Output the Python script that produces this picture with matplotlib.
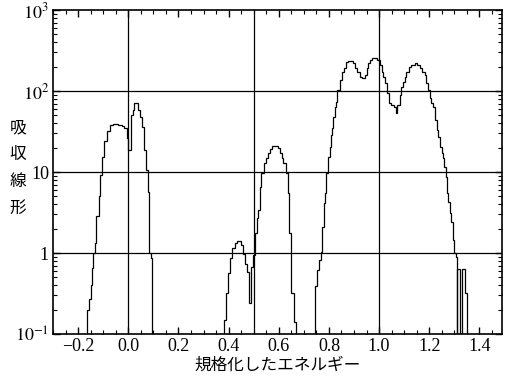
import matplotlib
matplotlib.use('Agg')
import numpy as np
import matplotlib.pyplot as plt
from matplotlib.ticker import MultipleLocator, FixedLocator, FixedFormatter, LogLocator

plt.rcParams['font.family'] = ['Liberation Serif', 'DejaVu Serif']
plt.rcParams['mathtext.fontset'] = 'stix'

# histogram: bin edges and heights, one block per peak
peak1_edges = [-0.166, -0.157, -0.150, -0.143, -0.139, -0.135, -0.129, -0.119, -0.113,
               -0.104, -0.096, -0.086, -0.073, -0.060, -0.040, -0.026, -0.016, -0.006,
               0.000, 0.009, 0.017, 0.023, 0.040, 0.047, 0.056, 0.063, 0.070, 0.077,
               0.084, 0.090, 0.095]
peak1_vals = [0.2, 0.27, 0.40, 0.65, 1.0, 1.32, 2.86, 5.0, 9.2,
              15.2, 24.4, 32.3, 38, 39, 38, 37, 34.7,
              26, 18.7, 50.6, 58, 71.6, 58, 48, 36, 18.7, 10.6,
              5.7, 1.0, 0.86]

peak2_edges = [0.383, 0.388, 0.396, 0.405, 0.414, 0.425, 0.434, 0.449, 0.456,
               0.465, 0.474, 0.482, 0.489, 0.498, 0.505, 0.512, 0.518, 0.525,
               0.531, 0.541, 0.549, 0.558, 0.565, 0.571, 0.598, 0.604, 0.611,
               0.618, 0.627, 0.635, 0.641, 0.650, 0.661, 0.667]
peak2_vals = [0.15, 0.32, 0.56, 0.86, 1.14, 1.32, 1.42, 1.26,
              0.97, 0.74, 0.59, 0.24, 0.68, 0.94, 1.75, 2.68, 3.4,
              6.6, 9.6, 12.8, 14.8, 17, 19.2, 21.1, 19.6, 17.3,
              14.8, 12.8, 9.6, 5.5, 1.75, 0.32, 0.14]

peak3_edges = [0.744, 0.753, 0.761, 0.769, 0.773, 0.780, 0.786, 0.790, 0.797,
               0.804, 0.808, 0.813, 0.817, 0.824, 0.830, 0.834, 0.843, 0.853,
               0.861, 0.867, 0.877, 0.896, 0.903, 0.912, 0.923, 0.932, 0.943,
               0.950, 0.956, 0.963, 0.972, 0.990, 1.003, 1.010, 1.016, 1.023,
               1.032, 1.040, 1.049, 1.060, 1.067, 1.073, 1.082, 1.089, 1.096,
               1.102, 1.109, 1.120, 1.129, 1.142, 1.151, 1.162, 1.171, 1.182,
               1.189, 1.195, 1.202, 1.209, 1.215, 1.222, 1.229, 1.235, 1.242,
               1.249, 1.255, 1.259, 1.265, 1.269, 1.275, 1.282, 1.288, 1.295,
               1.299, 1.306, 1.309, 1.312, 1.321, 1.331, 1.341, 1.352]
peak3_vals = [0.39, 0.62, 0.82, 1.04, 2.11, 4.1, 5.5, 9.6,
              15.4, 20.5, 28.6, 34.6, 48, 64, 73.8, 103, 137,
              173, 190, 230, 237, 220, 190, 173, 150, 143,
              158, 190, 220, 241, 253, 241, 209, 173, 150,
              124, 94, 70.5, 67, 64, 53, 67, 89, 113,
              130, 150, 173, 200, 209, 220, 209, 190, 173,
              158, 124, 103, 81, 70.5, 64, 44, 33, 27.3,
              20.5, 17, 14.8, 11.6, 8.7, 5.5, 4.3, 3.1, 2.44,
              1.45, 1.0, 0.9, 0.01, 0.63, 0.01, 0.63, 0.32]

xticks = [-0.2, 0.0, 0.2, 0.4, 0.6, 0.8, 1.0, 1.2, 1.4]
xtick_labels = ['\u22120.2', '0.0', '0.2', '0.4', '0.6', '0.8', '1.0', '1.2', '1.4']
yticks = [0.1, 1, 10, 100, 1000]
ytick_labels = ['$10^{-1}$', '1', '10', '$10^{2}$', '$10^{3}$']
hlines = [1, 10, 100]
vlines = [0.0, 0.5, 1.0]

fig = plt.figure(figsize=(5.06, 3.77), dpi=100)
ax = fig.add_axes([0.105, 0.114, 0.887, 0.8595])

for e, v in [(peak1_edges, peak1_vals), (peak2_edges, peak2_vals), (peak3_edges, peak3_vals)]:
    ax.stairs(v, e, baseline=0.01, color='black', lw=0.9)

for h in hlines:
    ax.axhline(h, color='black', lw=0.9)
for v in vlines:
    ax.axvline(v, color='black', lw=0.9)

ax.set_yscale('log')
ax.set_xlim(-0.3, 1.49)
ax.set_ylim(0.1, 1000)

ax.xaxis.set_major_locator(FixedLocator(xticks))
ax.xaxis.set_major_formatter(FixedFormatter(xtick_labels))
ax.xaxis.set_minor_locator(MultipleLocator(0.05))
ax.yaxis.set_major_locator(FixedLocator(yticks))
ax.yaxis.set_major_formatter(FixedFormatter(ytick_labels))
ax.yaxis.set_minor_locator(LogLocator(base=10, subs=np.arange(2, 10)))

ax.tick_params(which='both', direction='in', top=True, right=True, colors='black', labelsize=13)
ax.tick_params(which='major', length=5, width=1, pad=3)
ax.tick_params(which='minor', length=3, width=0.8)
for s in ax.spines.values():
    s.set_linewidth(1.2)

jp = ['Noto Sans CJK JP', 'DejaVu Sans']
ax.set_xlabel('規格化したエネルギー', family=jp, fontsize=12, labelpad=1)
fig.text(18 / 506, 1 - 168 / 377, '\n'.join('吸収線形'), family=jp, fontsize=12,
         ha='center', va='center', linespacing=1.75)

fig.savefig('out.png', dpi=100)
